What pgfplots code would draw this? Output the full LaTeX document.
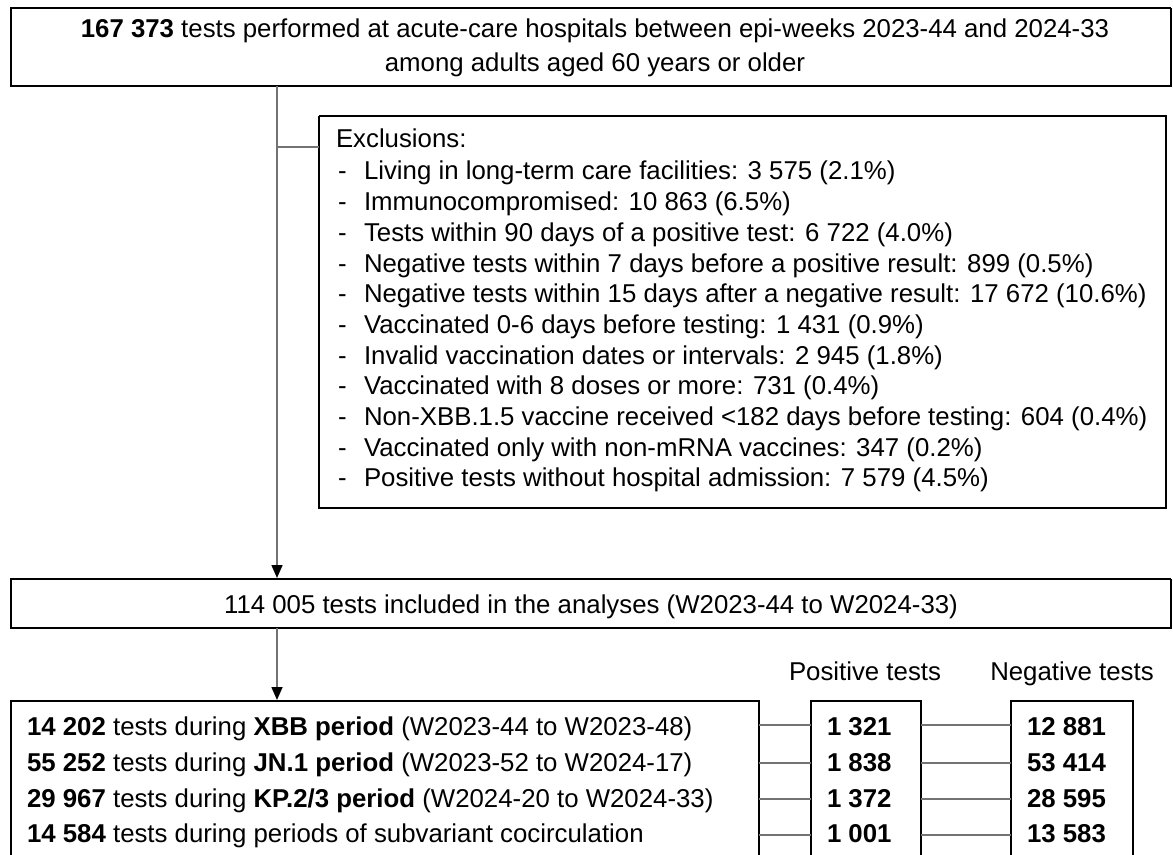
\documentclass[border=0pt]{standalone}
\usepackage{fontspec}
\setmainfont{Liberation Sans}
\usepackage{pgfplots}
\pgfplotsset{compat=1.18}
\usetikzlibrary{arrows.meta}
\tikzset{
  box/.style={black, line width=1pt, mark=none},
  conn/.style={black!55, line width=0.8pt, mark=none},
  arr/.style={conn, -{Triangle[width=5.5pt,length=6.5pt,color=black]}},
  t/.style={font=\fontsize{12.9}{15}\selectfont, inner sep=0pt, outer sep=0pt},
}
\begin{document}
\begin{tikzpicture}
\begin{axis}[
  width=586.5pt, height=427.5pt, scale only axis,
  xmin=0, xmax=1173, ymin=0, ymax=855, y dir=reverse,
  hide axis, clip=false,
]
% boxes
\addplot[box, forget plot] coordinates {(1171,8) (11,8) (11,86) (1171,86) (1171,8)};
\addplot[box, forget plot] coordinates {(319,116) (1166,116) (1166,508) (319,508) (319,116)};
\addplot[box, forget plot] coordinates {(1171,579) (11,579) (11,628) (1171,628) (1171,579)};
\addplot[box, forget plot] coordinates {(759,870) (759,701) (11,701) (11,870)};
\addplot[box, forget plot] coordinates {(811,870) (811,701) (921,701) (921,870)};
\addplot[box, forget plot] coordinates {(1011,870) (1011,701) (1133,701) (1133,870)};
% connectors
\addplot[arr, forget plot] coordinates {(277,86) (277,578)};
\addplot[conn, forget plot] coordinates {(277,147) (319,147)};
\addplot[arr, forget plot] coordinates {(277,628) (277,700)};
\addplot[conn, forget plot] coordinates {(759,725) (811,725)};
\addplot[conn, forget plot] coordinates {(759,763) (811,763)};
\addplot[conn, forget plot] coordinates {(759,799) (811,799)};
\addplot[conn, forget plot] coordinates {(759,835) (811,835)};
\addplot[conn, forget plot] coordinates {(921,725) (1011,725)};
\addplot[conn, forget plot] coordinates {(921,763) (1011,763)};
\addplot[conn, forget plot] coordinates {(921,799) (1011,799)};
\addplot[conn, forget plot] coordinates {(921,835) (1011,835)};
% top box text
\node[t, anchor=base] at (axis cs:595,38) {\textbf{167 373} tests performed at acute-care hospitals between epi-weeks 2023-44 and 2024-33};
\node[t, anchor=base] at (axis cs:595,72) {among adults aged 60 years or older};
% exclusions
\node[t, anchor=base west] at (axis cs:336,148) {Exclusions:};
\node[t, anchor=base west] at (axis cs:338,180.0) {-};
\node[t, anchor=base west] at (axis cs:338,210.7) {-};
\node[t, anchor=base west] at (axis cs:338,241.4) {-};
\node[t, anchor=base west] at (axis cs:338,272.1) {-};
\node[t, anchor=base west] at (axis cs:338,302.8) {-};
\node[t, anchor=base west] at (axis cs:338,333.5) {-};
\node[t, anchor=base west] at (axis cs:338,364.2) {-};
\node[t, anchor=base west] at (axis cs:338,394.9) {-};
\node[t, anchor=base west] at (axis cs:338,425.6) {-};
\node[t, anchor=base west] at (axis cs:338,456.3) {-};
\node[t, anchor=base west] at (axis cs:338,487.0) {-};
\node[t, anchor=base west] at (axis cs:364,180.0) {Living in long-term care facilities: 3 575 (2.1\%)};
\node[t, anchor=base west] at (axis cs:364,210.7) {Immunocompromised: 10 863 (6.5\%)};
\node[t, anchor=base west] at (axis cs:364,241.4) {Tests within 90 days of a positive test: 6 722 (4.0\%)};
\node[t, anchor=base west] at (axis cs:364,272.1) {Negative tests within 7 days before a positive result: 899 (0.5\%)};
\node[t, anchor=base west] at (axis cs:364,302.8) {Negative tests within 15 days after a negative result: 17 672 (10.6\%)};
\node[t, anchor=base west] at (axis cs:364,333.5) {Vaccinated 0-6 days before testing: 1 431 (0.9\%)};
\node[t, anchor=base west] at (axis cs:364,364.2) {Invalid vaccination dates or intervals: 2 945 (1.8\%)};
\node[t, anchor=base west] at (axis cs:364,394.9) {Vaccinated with 8 doses or more: 731 (0.4\%)};
\node[t, anchor=base west] at (axis cs:364,425.6) {Non-XBB.1.5 vaccine received <182 days before testing: 604 (0.4\%)};
\node[t, anchor=base west] at (axis cs:364,456.3) {Vaccinated only with non-mRNA vaccines: 347 (0.2\%)};
\node[t, anchor=base west] at (axis cs:364,487.0) {Positive tests without hospital admission: 7 579 (4.5\%)};
% included
\node[t, anchor=base] at (axis cs:591,613) {114 005 tests included in the analyses (W2023-44 to W2024-33)};
% headers
\node[t, anchor=base] at (axis cs:865,680) {Positive tests};
\node[t, anchor=base] at (axis cs:1072,680) {Negative tests};
% rows
\node[t, anchor=base west] at (axis cs:27,735) {\textbf{14 202} tests during \textbf{XBB period} (W2023-44 to W2023-48)};
\node[t, anchor=base west] at (axis cs:27,771) {\textbf{55 252} tests during \textbf{JN.1 period} (W2023-52 to W2024-17)};
\node[t, anchor=base west] at (axis cs:27,807) {\textbf{29 967} tests during \textbf{KP.2/3 period} (W2024-20 to W2024-33)};
\node[t, anchor=base west] at (axis cs:27,842) {\textbf{14 584} tests during periods of subvariant cocirculation};
\node[t, anchor=base west] at (axis cs:827,735) {\textbf{1 321}};
\node[t, anchor=base west] at (axis cs:827,771) {\textbf{1 838}};
\node[t, anchor=base west] at (axis cs:827,807) {\textbf{1 372}};
\node[t, anchor=base west] at (axis cs:827,842) {\textbf{1 001}};
\node[t, anchor=base west] at (axis cs:1027,735) {\textbf{12 881}};
\node[t, anchor=base west] at (axis cs:1027,771) {\textbf{53 414}};
\node[t, anchor=base west] at (axis cs:1027,807) {\textbf{28 595}};
\node[t, anchor=base west] at (axis cs:1027,842) {\textbf{13 583}};
\end{axis}
\pgfresetboundingbox
\path (current axis.south west) rectangle (current axis.north east);
\end{tikzpicture}
\end{document}
